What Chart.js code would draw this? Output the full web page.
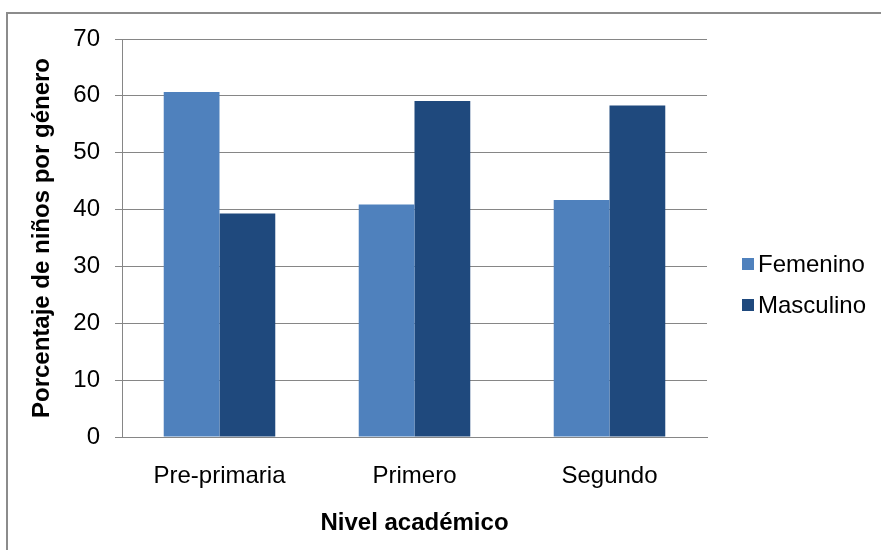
<!DOCTYPE html>
<html>
<head>
<meta charset="utf-8">
<script src="https://cdn.jsdelivr.net/npm/chart.js@4/dist/chart.umd.min.js"></script>
<style>
  html, body { margin: 0; padding: 0; background: #ffffff; }
  #wrap { width: 881px; height: 550px; position: relative; }
</style>
</head>
<body>
<div id="wrap"><canvas id="c" width="881" height="550"></canvas></div>
<script>
const categories = ['Pre-primaria', 'Primero', 'Segundo'];
const femenino = [60.7, 40.9, 41.7];
const masculino = [39.3, 59.1, 58.3];
const yTicks = [0, 10, 20, 30, 40, 50, 60, 70];
const seriesNames = ['Femenino', 'Masculino'];
const seriesColors = ['#4F81BD', '#1F497D'];
const xTitle = 'Nivel académico';
const yTitle = 'Porcentaje de niños por género';

const FONT = "'Liberation Sans', Arial, sans-serif";
const GRID = '#868686';

const frame = {
  id: 'frame',
  beforeDraw(chart) {
    const ctx = chart.ctx;
    ctx.save();
    ctx.fillStyle = '#ffffff';
    ctx.fillRect(0, 0, chart.width, chart.height);
    ctx.strokeStyle = '#8c8c8c';
    ctx.lineWidth = 2;
    ctx.strokeRect(7, 13, chart.width + 20, chart.height + 20);
    ctx.restore();
  }
};

const customLegend = {
  id: 'customLegend',
  afterDraw(chart) {
    const ctx = chart.ctx;
    const area = chart.chartArea;
    const x0 = area.right + 35;
    const yStart = 264;
    const step = 41;
    ctx.save();
    ctx.font = '24px ' + FONT;
    ctx.textBaseline = 'middle';
    ctx.textAlign = 'left';
    chart.data.datasets.forEach((ds, i) => {
      const y = yStart + i * step;
      ctx.fillStyle = ds.backgroundColor;
      ctx.fillRect(x0, y - 6, 12, 12);
      ctx.fillStyle = '#000000';
      ctx.fillText(ds.label, x0 + 16, y + 1);
    });
    ctx.restore();
  }
};

new Chart(document.getElementById('c'), {
  type: 'bar',
  data: {
    labels: categories,
    datasets: [
      { label: seriesNames[0], data: femenino, backgroundColor: seriesColors[0], borderWidth: 0 },
      { label: seriesNames[1], data: masculino, backgroundColor: seriesColors[1], borderWidth: 0 }
    ]
  },
  options: {
    responsive: false,
    animation: false,
    devicePixelRatio: 1,
    layout: { padding: { left: 0, right: 174, top: 39, bottom: 0 } },
    datasets: { bar: { categoryPercentage: 0.572, barPercentage: 1.0 } },
    plugins: {
      legend: { display: false },
      tooltip: { enabled: false },
      title: { display: false }
    },
    scales: {
      x: {
        grid: { display: false, drawTicks: false },
        border: { display: true, color: GRID, width: 1 },
        ticks: { font: { family: FONT, size: 24 }, color: '#000000', padding: 25, maxRotation: 0 },
        title: { display: true, text: xTitle, font: { family: FONT, size: 24, weight: 'bold' }, color: '#000000', padding: { top: 0, bottom: 12 } },
        afterFit(scale) { scale.height = 113; }
      },
      y: {
        min: 0,
        max: 70,
        afterBuildTicks(scale) { scale.ticks = yTicks.map(v => ({ value: v })); },
        grid: { color: GRID, lineWidth: 1, tickLength: 7, drawTicks: true },
        border: { display: true, color: GRID, width: 1 },
        ticks: { font: { family: FONT, size: 24 }, color: '#000000', padding: 15 },
        title: { display: true, text: yTitle, font: { family: FONT, size: 24, weight: 'bold' }, color: '#000000', padding: { top: 28, bottom: 0 } },
        afterFit(scale) { scale.width = 122; }
      }
    }
  },
  plugins: [frame, customLegend]
});
</script>
</body>
</html>
